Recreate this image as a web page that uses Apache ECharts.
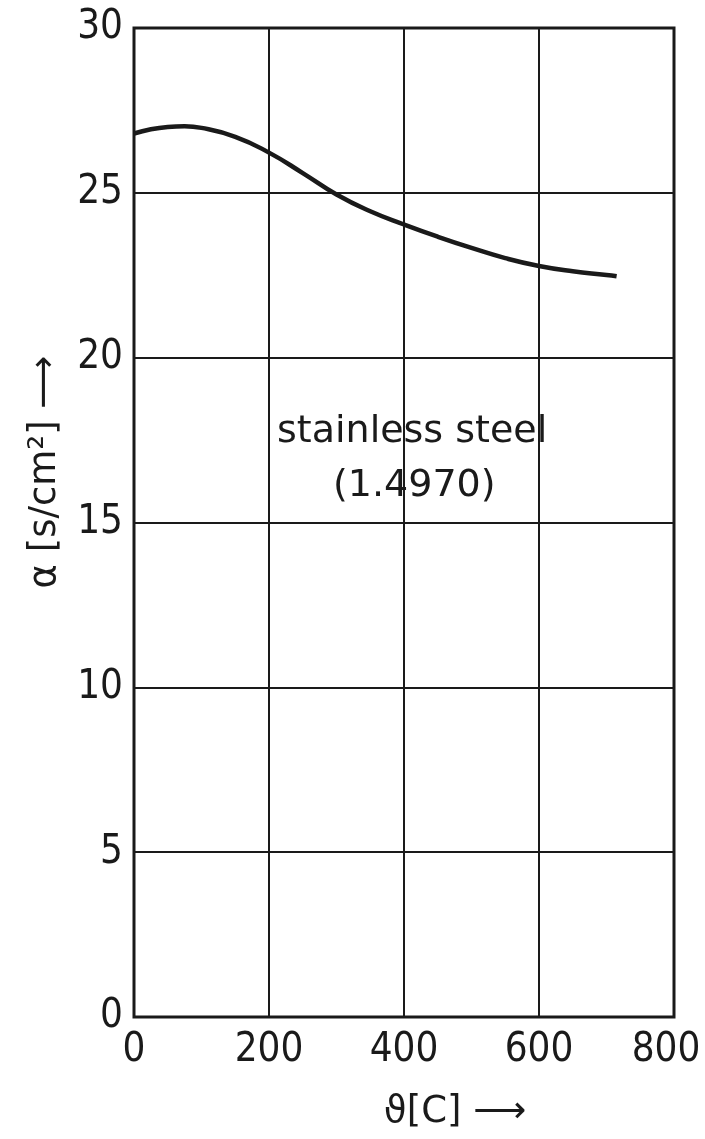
<!DOCTYPE html>
<html><head><meta charset="utf-8">
<script src="https://cdn.jsdelivr.net/npm/echarts@6/dist/echarts.min.js"></script>
<style>html,body{margin:0;padding:0;background:#fff}#c{width:705px;height:1139px}</style>
</head><body><div id="c"></div>
<script>
const temps = [0, 25, 50, 75, 100, 150, 200, 250, 300, 350, 400, 450, 500, 550, 600, 650, 700, 715];
const alpha = [26.8, 26.93, 27.0, 27.02, 26.97, 26.7, 26.22, 25.6, 24.95, 24.44, 24.04, 23.67, 23.33, 23.02, 22.78, 22.62, 22.51, 22.47];
const xTicks = [0, 200, 400, 600, 800];
const yTicks = [0, 5, 10, 15, 20, 25, 30];
const seriesLabel = ['stainless steel', '(1.4970)'];

const tickFont = '"DejaVu Sans Condensed", "Liberation Sans Narrow", sans-serif';
const textFont = '"DejaVu Sans", sans-serif';
const ink = '#1a1a1a';

const chart = echarts.init(document.getElementById('c'));
chart.setOption({
  animation: false,
  backgroundColor: '#fff',
  grid: { left: 134, top: 28, right: 31, bottom: 122, show: true, borderColor: ink, borderWidth: 3, backgroundColor: 'transparent', containLabel: false, outerBoundsMode: 'none' },
  xAxis: {
    type: 'value', min: xTicks[0], max: xTicks[xTicks.length - 1], interval: 200,
    axisLine: { show: false }, axisTick: { show: false },
    splitLine: { lineStyle: { color: ink, width: 2 } },
    axisLabel: {
      color: ink, fontFamily: tickFont, fontSize: 40, margin: 14,
      formatter: v => v === xTicks[xTicks.length - 1] ? '{last|' + v + '}' : String(v),
      rich: { last: { color: ink, fontFamily: tickFont, fontSize: 40, padding: [0, 16, 0, 0] } }
    }
  },
  yAxis: {
    type: 'value', min: yTicks[0], max: yTicks[yTicks.length - 1], interval: 5,
    axisLine: { show: false }, axisTick: { show: false },
    splitLine: { lineStyle: { color: ink, width: 2 } },
    axisLabel: { color: ink, fontFamily: tickFont, fontSize: 40, margin: 11 }
  },
  series: [{
    type: 'line', smooth: 0.5, symbol: 'none',
    data: temps.map((t, i) => [t, alpha[i]]),
    lineStyle: { color: ink, width: 4.5 }
  }],
  graphic: [
    { type: 'text', left: 277, top: 413, style: { text: seriesLabel[0], font: '38px ' + textFont, fill: ink } },
    { type: 'text', left: 333, top: 467, style: { text: seriesLabel[1], font: '38px ' + textFont, fill: ink } },
    { type: 'text', x: 45, y: 472, rotation: Math.PI / 2, style: { text: 'α [s/cm²] ⟶', font: '37px ' + textFont, fill: ink, textAlign: 'center', textVerticalAlign: 'middle' } },
    { type: 'text', x: 455, y: 1112, style: { text: 'ϑ[C] ⟶', font: '37px ' + textFont, fill: ink, textAlign: 'center', textVerticalAlign: 'middle' } }
  ]
});
</script></body></html>
